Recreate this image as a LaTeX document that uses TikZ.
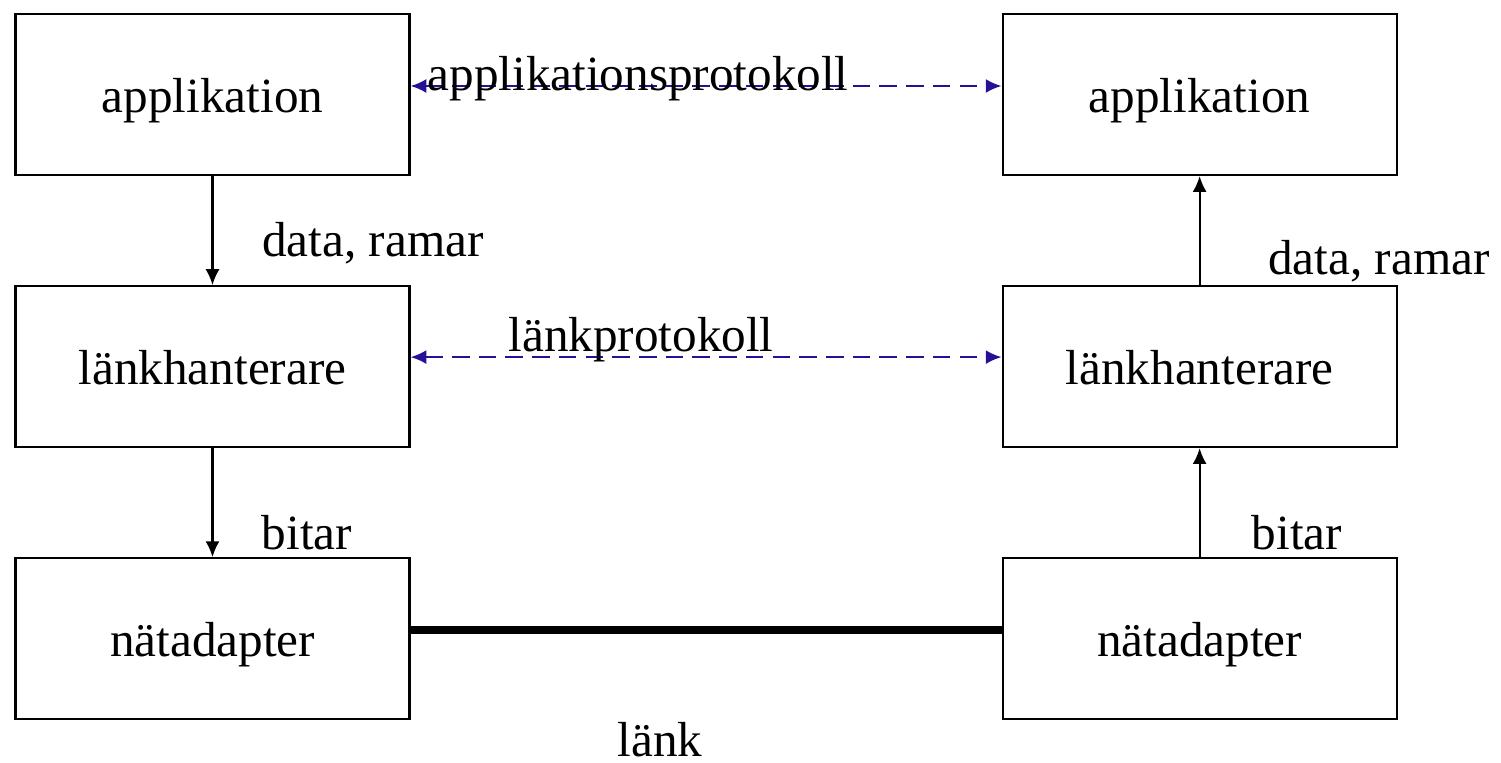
\documentclass[tikz,border=0pt]{standalone}
\usepackage{fontspec}
\setmainfont{Liberation Serif}
\usetikzlibrary{positioning,arrows.meta}
\definecolor{protblue}{RGB}{40,16,150}

\begin{document}
\begin{tikzpicture}[line width=0.6pt,>={Latex[length=4.5pt,width=4pt]},
	layer/.style={draw,minimum width=3.94cm,minimum height=1.61cm,text height=13pt,text depth=3pt,font=\fontsize{14}{16}\selectfont},
	lbl/.style={font=\fontsize{14}{16}\selectfont},
	proto/.style={<->,dashed,protblue,dash pattern=on 5pt off 2.6pt}]
	\useasboundingbox (0,0) rectangle (15.01,-7.63);

		%left stack
		\node[layer] (appL) at (2.125,-0.945) {applikation};
		\node[layer,below=1.09cm of appL] (linkL) {länkhanterare};
		\node[layer,below=1.09cm of linkL] (nicL) {nätadapter};

		%right stack
		\node[layer,right=5.91cm of appL] (appR) {applikation};
		\node[layer,right=5.91cm of linkL] (linkR) {länkhanterare};
		\node[layer,right=5.91cm of nicL] (nicR) {nätadapter};

		% down on the left, up on the right
		\draw[->] (appL) -- (linkL);
		\draw[->] (linkL) -- (nicL);
		\draw[->] (linkR) -- (appR);
		\draw[->] (nicR) -- (linkR);
		\node[lbl] (drL) at (3.73,-2.43) {data, ramar};
		\node[lbl] (drR) at (13.79,-2.61) {data, ramar};
		\node[lbl] (btL) at (3.07,-5.33) {bitar};
		\node[lbl] (btR) at (12.97,-5.33) {bitar};

		% the protocols
		\draw[proto] ([yshift=0.085cm]appL.east) -- node[lbl,pos=0.385,above=-8pt,text=black] (apProt) {applikationsprotokoll} ([yshift=0.085cm]appR.west);
		\draw[proto] ([yshift=0.095cm]linkL.east) -- node[lbl,pos=0.39,above=-5pt,text=black] (lkProt) {länkprotokoll} ([yshift=0.095cm]linkR.west);

		% the physical link
		\draw[line width=2.4pt] ([yshift=0.085cm]nicL.east) -- ([yshift=0.085cm]nicR.west);
		\node[lbl,inner sep=0pt] (lnk) at (6.6,-7.40) {länk};

	\end{tikzpicture}
\end{document}
